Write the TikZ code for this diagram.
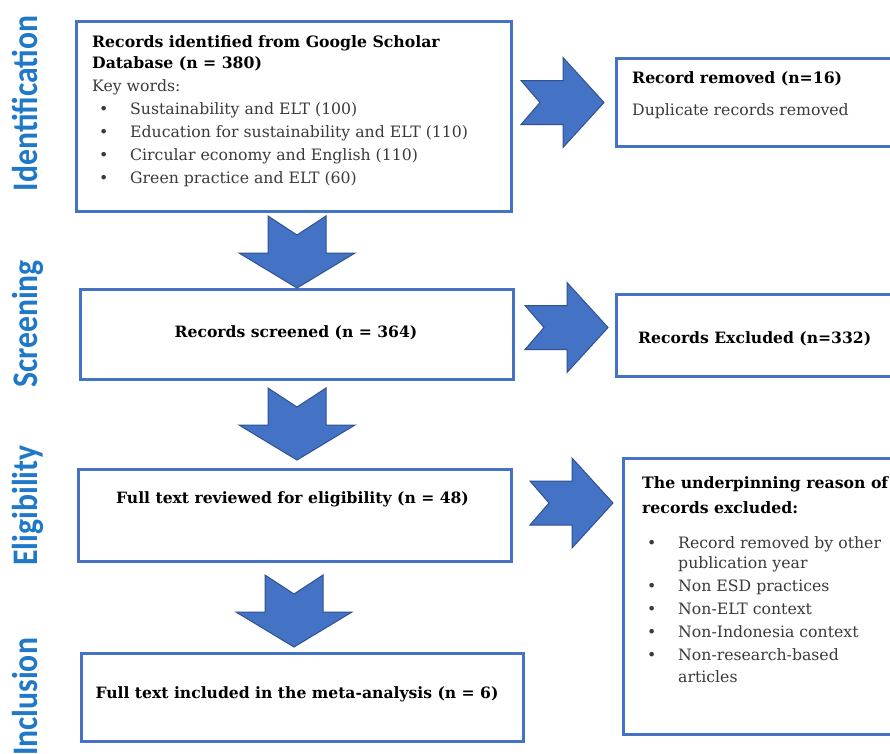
\documentclass[tikz,border=0pt]{standalone}
\usepackage{fontspec}
\usepackage{graphicx}
\setmainfont{DejaVu Serif}
\newfontfamily\stagefont{Carlito}
\usetikzlibrary{calc}
\definecolor{boxblue}{HTML}{4472C4}
\definecolor{arrowline}{HTML}{2F528F}
\definecolor{stageblue}{HTML}{1F78C8}
\definecolor{textgray}{HTML}{3A3A3A}
\tikzset{
  box/.style={draw=boxblue, line width=3pt, fill=white, inner sep=0pt, anchor=north west},
  stage/.style={rotate=90, anchor=base, text=stageblue, inner sep=0pt,
    font=\stagefont\bfseries\fontsize{36}{36}\selectfont},
  btext/.style={inner sep=0pt, font=\fontsize{15.7}{23}\selectfont, text=textgray, align=left},
  hd/.style={inner sep=0pt, font=\fontsize{15.6}{23}\selectfont\bfseries, text=black, align=left},
  blockarrow/.style={fill=boxblue, draw=arrowline, line width=1pt, line join=miter},
  pics/downarrow/.style={code={
    \path[blockarrow] (-29,0) -- (0,19) -- (29,0) -- (29,37) -- (58,37) -- (0,72) -- (-58,37) -- (-29,37) -- cycle;}},
  pics/rightarrow/.style={code={
    \path[blockarrow] (0,-22) -- (42,-22) -- (42,-45) -- (83,0) -- (42,45) -- (42,22) -- (0,22) -- (19,0) -- cycle;}},
}
\newcommand{\bul}[1]{\hspace*{#1}\makebox[31pt][l]{\textbullet}}
\begin{document}
\begin{tikzpicture}[x=1pt,y=-1pt]
\useasboundingbox (0,0) rectangle (890,753);
\clip (0,0) rectangle (890,753);
\fill[white] (0,0) rectangle (890,753);

% stage labels
\node[stage] (sid) at (37,103.5) {\scalebox{0.88}[1]{Identification}};
\node[stage] (ssc) at (37,324) {\scalebox{0.88}[1]{Screening}};
\node[stage] (sel) at (37,505.5) {\scalebox{0.88}[1]{Eligibility}};
\node[stage] (sin) at (37,697) {\scalebox{0.88}[1]{Inclusion}};

% left boxes
\node[box, minimum width=435pt, minimum height=190pt] (b1) at (75,20) {};
\node[box, minimum width=433pt, minimum height=90pt] (b2) at (79,288) {};
\node[box, minimum width=433pt, minimum height=92pt] (b3) at (77,468) {};
\node[box, minimum width=442pt, minimum height=88pt] (b4) at (80,652) {};

% right boxes
\node[box, minimum width=290pt, minimum height=88pt] (r1) at (615,57) {};
\node[box, minimum width=290pt, minimum height=82pt] (r2) at (615,293) {};
\node[box, minimum width=290pt, minimum height=276pt] (r3) at (622,457) {};

% texts (multi-line nodes are anchored at the baseline of their last line)
\node[btext, anchor=base west] (t1) at (92,183) {%
  \textbf{\color{black}Records identified from Google Scholar}\\[-2pt]
  \textbf{\color{black}Database (n = 380)}\\
  Key words:\\
  \bul{7pt}Sustainability and ELT (100)\\
  \bul{7pt}Education for sustainability and ELT (110)\\
  \bul{7pt}Circular economy and English (110)\\
  \bul{7pt}Green practice and ELT (60)};
\node[hd, anchor=base] (t2) at (296,337) {Records screened (n = 364)};
\node[hd, anchor=base] (t3) at (292.5,503) {Full text reviewed for eligibility (n = 48)};
\node[hd, anchor=base] (t4) at (297,698) {Full text included in the meta-analysis (n = 6)};
\node[btext, anchor=base west] (tr1) at (632,115) {%
  \textbf{\color{black}Record removed (n=16)}\\[9pt]
  Duplicate records removed};
\node[hd, anchor=base west] (tr2) at (638,343) {Records Excluded (n=332)};
\node[btext, anchor=base west] (tr3) at (642,682) {%
  \textbf{\color{black}The underpinning reason of}\\[2pt]
  \textbf{\color{black}records excluded:}\\[12pt]
  \bul{5pt}Record removed by other\\[-3pt]
  \hspace*{36pt}publication year\\
  \bul{5pt}Non ESD practices\\
  \bul{5pt}Non-ELT context\\
  \bul{5pt}Non-Indonesia context\\
  \bul{5pt}Non-research-based\\[-1pt]
  \hspace*{36pt}articles};

% down arrows
\pic at ($(b1.south)+(3,3)$) {downarrow};
\pic at ($(b2.south)+(0,7)$) {downarrow};
\pic at ($(b3.south)+(-1,12)$) {downarrow};

% right arrows
\pic at ($(b1.east |- r1.west)+(8,0)$) {rightarrow};
\pic at ($(b2.east |- r2.west)+(10,-8)$) {rightarrow};
\pic at ($(b3.east |- r3.north)+(17,46)$) {rightarrow};
\end{tikzpicture}
\end{document}
